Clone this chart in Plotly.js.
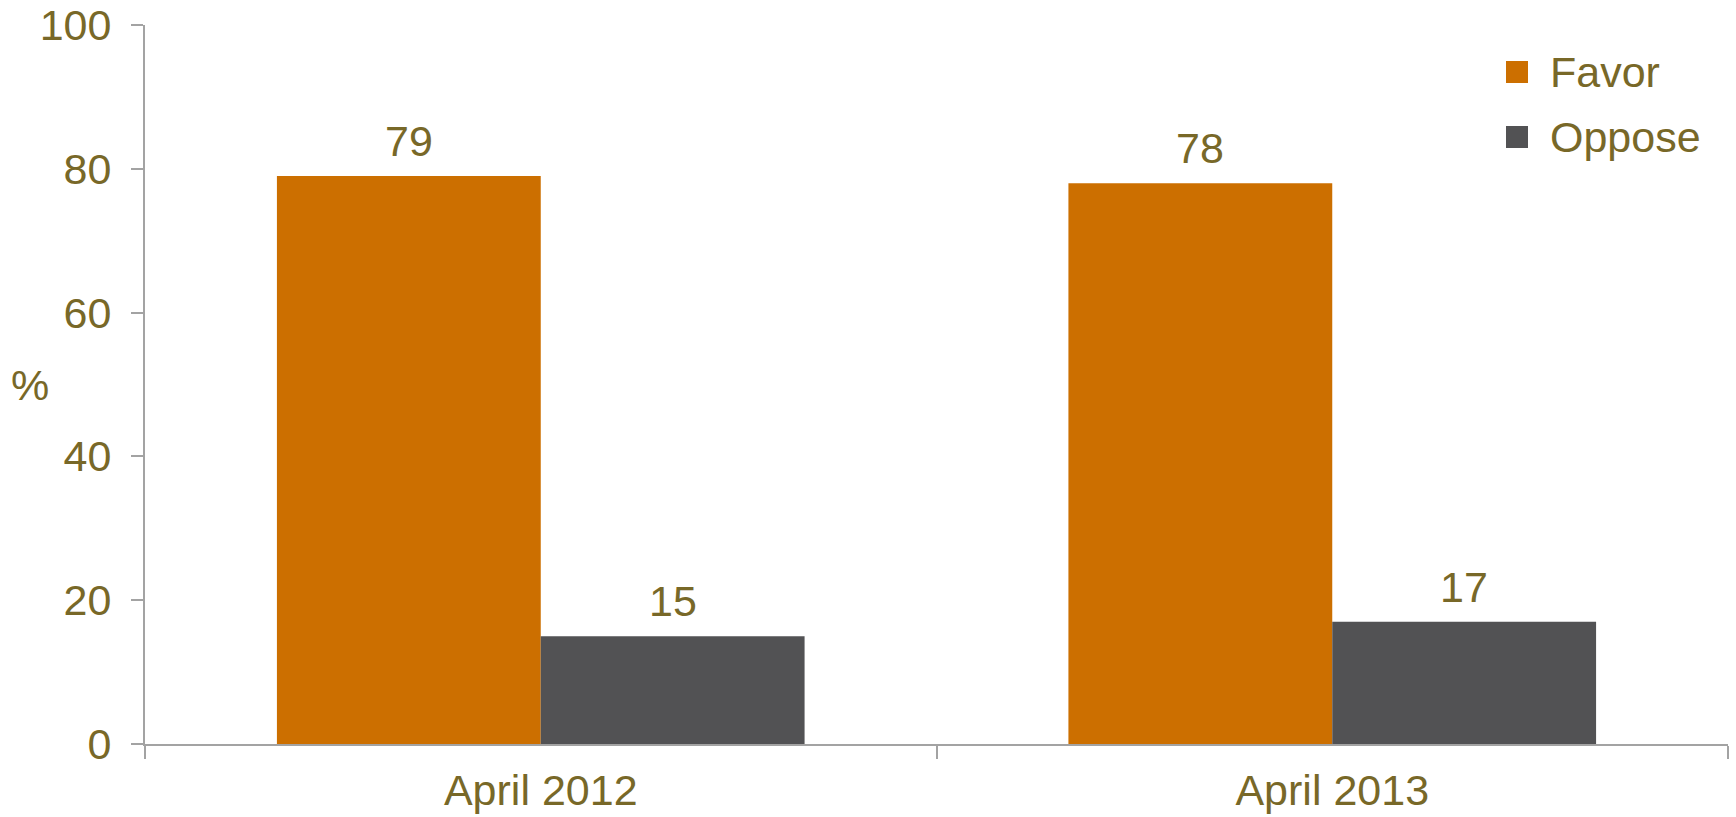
<!DOCTYPE html>
<html>
<head>
<meta charset="utf-8">
<script src="https://cdn.plot.ly/plotly-3.0.1.min.js"></script>
<style>html,body{margin:0;padding:0;background:#fff;}#chart{width:1736px;height:817px;}</style>
</head>
<body>
<div id="chart"></div>
<script>
var categories = ['April 2012', 'April 2013'];
var seriesNames = ['Favor', 'Oppose'];
var favorValues = [79, 78];
var opposeValues = [15, 17];
var yTickValues = [0, 20, 40, 60, 80, 100];
var yAxisLabel = '%';

var textColor = '#786828';
var axisColor = '#A3A3A3';
var fontFamily = 'Liberation Sans, Arial, sans-serif';
var fontSize = 43;
var colors = ['#CC6F00', '#525254'];
var seriesValues = [favorValues, opposeValues];

var traces = seriesValues.map(function (vals, i) {
  return {
    type: 'bar',
    name: seriesNames[i],
    x: categories,
    y: vals,
    marker: {color: colors[i]},
    showlegend: false,
    hoverinfo: 'none'
  };
});

var annotations = [];
seriesValues.forEach(function (vals, i) {
  vals.forEach(function (v, j) {
    annotations.push({
      x: categories[j], y: v, xref: 'x', yref: 'y',
      text: String(v), showarrow: false,
      xshift: i === 0 ? -132 : 132, yshift: 9,
      xanchor: 'center', yanchor: 'bottom',
      font: {family: fontFamily, size: fontSize, color: textColor}
    });
  });
});
annotations.push({
  x: 0, y: 0.5, xref: 'paper', yref: 'paper', text: yAxisLabel,
  showarrow: false, xanchor: 'center', yanchor: 'middle', xshift: -115,
  font: {family: fontFamily, size: fontSize, color: textColor}
});

// custom legend (larger squares than plotly's built-in legend)
var shapes = [];
var plotL = 145, plotW = 1583, plotT = 25, plotH = 719;
function px2x(p) { return (p - plotL) / plotW; }
function py2y(p) { return (plotT + plotH - p) / plotH; }
var legendCenters = [72, 137];
seriesNames.forEach(function (name, i) {
  var cy = legendCenters[i];
  shapes.push({
    type: 'rect', xref: 'paper', yref: 'paper',
    x0: px2x(1506), x1: px2x(1528), y0: py2y(cy + 11), y1: py2y(cy - 11),
    fillcolor: colors[i], line: {width: 0}
  });
  annotations.push({
    x: px2x(1548), y: py2y(cy), xref: 'paper', yref: 'paper', text: name,
    showarrow: false, xanchor: 'left', yanchor: 'middle',
    font: {family: fontFamily, size: fontSize, color: textColor}
  });
});

var layout = {
  width: 1736, height: 817,
  margin: {l: 145, r: 8, t: 25, b: 73},
  paper_bgcolor: '#ffffff', plot_bgcolor: '#ffffff',
  barmode: 'group', bargap: 1/3, bargroupgap: 0,
  showlegend: false,
  font: {family: fontFamily, size: fontSize, color: textColor},
  xaxis: {
    type: 'category',
    showline: true, linecolor: axisColor, linewidth: 2,
    ticks: 'outside', tickson: 'boundaries', ticklen: 13, tickwidth: 2, tickcolor: axisColor,
    showgrid: false, zeroline: false,
    ticklabelstandoff: 7,
    tickfont: {family: fontFamily, size: fontSize, color: textColor}
  },
  yaxis: {
    range: [0, 100], tickvals: yTickValues,
    showline: true, linecolor: axisColor, linewidth: 2,
    ticks: 'outside', ticklen: 12, tickwidth: 2, tickcolor: axisColor,
    showgrid: false, zeroline: false,
    ticklabelstandoff: 11,
    tickfont: {family: fontFamily, size: fontSize, color: textColor}
  },
  annotations: annotations,
  shapes: shapes
};

Plotly.newPlot('chart', traces, layout, {staticPlot: true, displayModeBar: false});
</script>
</body>
</html>
